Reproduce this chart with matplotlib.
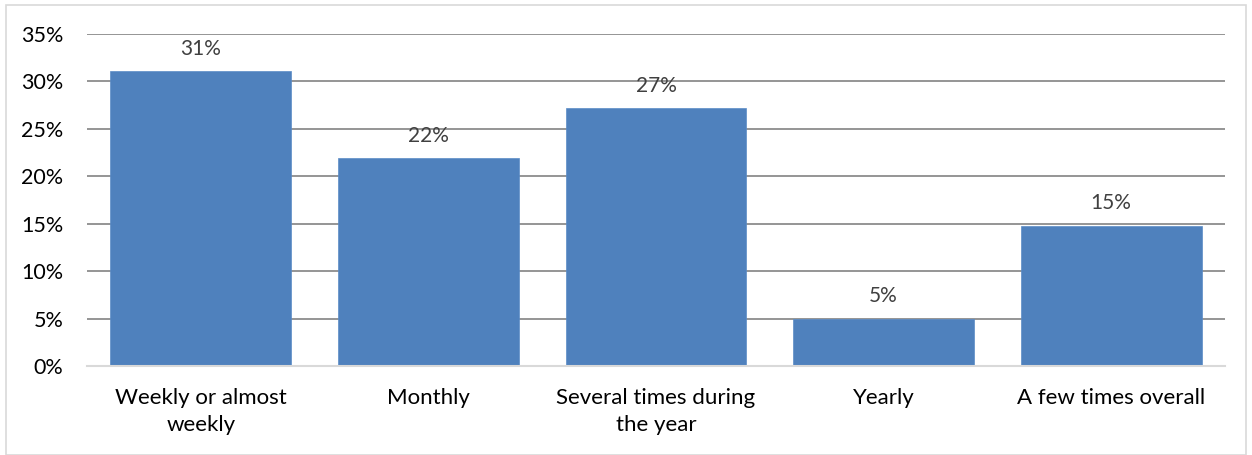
import matplotlib
matplotlib.use("Agg")
import matplotlib.pyplot as plt
from matplotlib.patches import Rectangle

categories = ["Weekly or almost\nweekly", "Monthly", "Several times during\nthe year", "Yearly", "A few times overall"]
values = [31.1, 21.9, 27.2, 5.0, 14.8]
labels = ["31%", "22%", "27%", "5%", "15%"]
yticks = [0, 5, 10, 15, 20, 25, 30, 35]
ytick_labels = ["0%", "5%", "10%", "15%", "20%", "25%", "30%", "35%"]

plt.rcParams['font.family'] = ['Lato', 'DejaVu Sans']

fig = plt.figure(figsize=(12.52, 4.55), dpi=100)
fig.patches.append(Rectangle((6/1252, 0), 1 - 12/1252, 1 - 5/455, transform=fig.transFigure,
                             fill=False, edgecolor='#d9d9d9', linewidth=1.2))
ax = fig.add_axes([87/1252, 1 - 366/455, (1225 - 87)/1252, (366 - 34)/455])

x = list(range(len(categories)))
bars = ax.bar(x, values, width=0.795, color='#4F81BD', edgecolor='#5b8cc7', linewidth=0.5, zorder=3)
for xi, v, lab in zip(x, values, labels):
    ax.text(xi, v + 1.3, lab, ha='center', va='bottom', fontsize=15, color='#404040')

ax.set_xlim(-0.5, len(categories) - 0.5)
ax.set_ylim(0, 35)
ax.set_yticks(yticks)
ax.set_yticklabels(ytick_labels, fontsize=15.5)
ax.set_xticks(x)
ax.set_xticklabels(categories, fontsize=16, linespacing=1.45)
ax.yaxis.grid(True, color='#8c8c8c', linewidth=1.3, zorder=0)
ax.set_axisbelow(True)
for s in ['left', 'right', 'top']:
    ax.spines[s].set_visible(False)
ax.spines['bottom'].set_color('#d9d9d9')
ax.spines['bottom'].set_linewidth(1.5)
ax.spines['bottom'].set_zorder(4)
ax.tick_params(axis='both', length=0)
ax.tick_params(axis='y', pad=17)
ax.tick_params(axis='x', pad=16)

fig.savefig("out.png", dpi=100)
